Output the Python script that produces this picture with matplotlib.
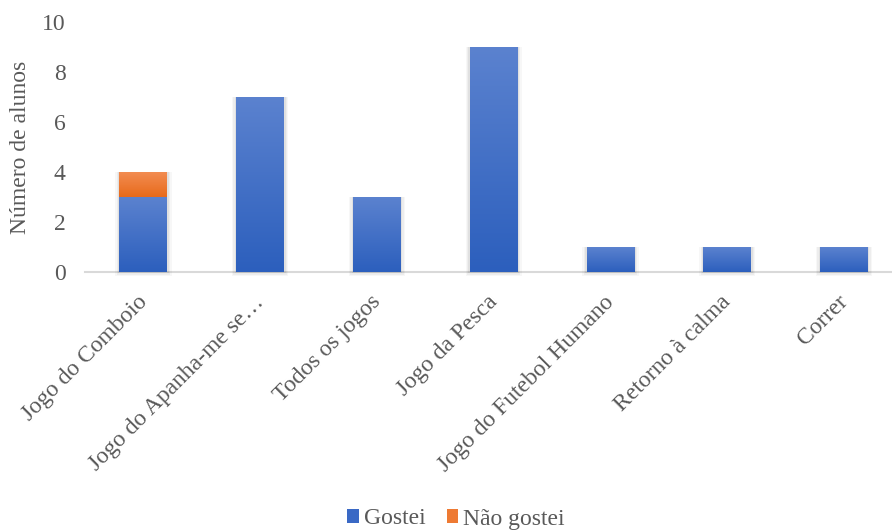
import matplotlib
matplotlib.use("Agg")
import matplotlib.pyplot as plt
import numpy as np
from matplotlib.colors import LinearSegmentedColormap
from matplotlib.patches import Rectangle, Patch
from matplotlib.transforms import ScaledTranslation

categories = ["Jogo do Comboio", "Jogo do Apanha-me se…", "Todos os jogos", "Jogo da Pesca",
              "Jogo do Futebol Humano", "Retorno à calma", "Correr"]
gostei = [3, 7, 3, 9, 1, 1, 1]
nao_gostei = [1, 0, 0, 0, 0, 0, 0]
yticks = [0, 2, 4, 6, 8, 10]

plt.rcParams['font.family'] = ['Liberation Serif', 'DejaVu Serif']
txt = '#595959'
fs = 17

fig = plt.figure(figsize=(8.92, 5.30), dpi=100)
ax = fig.add_axes([85/892, (530-272)/530, 817.5/892, 250/530])

x = np.arange(len(categories))
w = 0.41
blue_cmap = LinearSegmentedColormap.from_list('b', ['#2c5fbd', '#5b82cf'])
orange_cmap = LinearSegmentedColormap.from_list('o', ['#e86a1a', '#f28c52'])

def shadow(xc, bottom, height):
    for i, a in enumerate([0.05, 0.04, 0.03]):
        dx = 0.012 * (i + 1)
        dy = 0.05 * (i + 1)
        sh = Rectangle((xc - w/2 - dx, bottom - dy), w + 2*dx, height + dy,
                       facecolor='black', alpha=a, edgecolor='none', zorder=1, clip_on=False)
        ax.add_patch(sh)

def grad_bar(xc, bottom, height, cmap):
    if height <= 0:
        return
    r = Rectangle((xc - w/2, bottom), w, height, facecolor='none', edgecolor='none', zorder=3)
    ax.add_patch(r)
    grad = np.linspace(0, 1, 256).reshape(-1, 1)
    im = ax.imshow(grad, cmap=cmap, origin='lower', aspect='auto',
                   extent=(xc - w/2, xc + w/2, bottom, bottom + height), zorder=3)
    im.set_clip_path(r)

ax.bar(x, gostei, w, color='none')
ax.bar(x, nao_gostei, w, bottom=gostei, color='none')
for xi, g, n in zip(x, gostei, nao_gostei):
    shadow(xi, 0, g + n)
    grad_bar(xi, 0, g, blue_cmap)
    grad_bar(xi, g, n, orange_cmap)

ax.set_xlim(-0.5, len(categories) - 0.5)
ax.set_ylim(0, 10)
ax.set_yticks(yticks)
ax.set_yticklabels([str(t) for t in yticks], color=txt, fontsize=fs)
ax.set_xticks(x)
ax.set_xticklabels(categories, rotation=45, ha='right', va='top', rotation_mode='default',
                   color=txt, fontsize=fs)
ax.tick_params(axis='both', length=0)
ax.tick_params(axis='y', pad=14)
ax.tick_params(axis='x', pad=14)
off = ScaledTranslation(0.08, 0, fig.dpi_scale_trans)
for lab in ax.get_xticklabels():
    lab.set_transform(lab.get_transform() + off)
for s in ['top', 'right', 'left']:
    ax.spines[s].set_visible(False)
ax.spines['bottom'].set_color('#d9d9d9')
ax.spines['bottom'].set_linewidth(1.5)
ax.spines['bottom'].set_zorder(0)
ax.set_ylabel('Número de alunos', color=txt, fontsize=fs, labelpad=8)

handles = [Patch(facecolor='#3a69c5'), Patch(facecolor='#ee7a33')]
fig.legend(handles, ['Gostei', 'Não gostei'], loc='center', bbox_to_anchor=(456/892, 11/530),
           ncol=2, frameon=False, fontsize=fs, labelcolor=txt, handlelength=0.5, handleheight=0.5,
           handletextpad=0.2, columnspacing=0.9)

fig.savefig('out.png', dpi=100)
